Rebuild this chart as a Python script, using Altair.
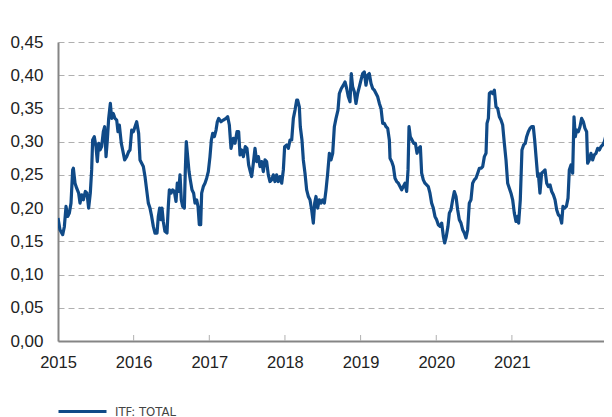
import altair as alt
import pandas as pd

# decimal years and ITF: TOTAL values
years = [
    2015.000, 2015.026, 2015.062, 2015.084, 2015.106, 2015.128, 2015.150, 2015.172, 2015.194, 2015.203,
    2015.225, 2015.247, 2015.273, 2015.291, 2015.313, 2015.335, 2015.361, 2015.383, 2015.405, 2015.427,
    2015.445, 2015.458, 2015.480, 2015.502, 2015.520, 2015.538, 2015.555, 2015.577, 2015.599, 2015.617,
    2015.635, 2015.652, 2015.670, 2015.692, 2015.709, 2015.731, 2015.753, 2015.776, 2015.793, 2015.811,
    2015.837, 2015.855, 2015.881, 2015.908, 2015.934, 2015.952, 2015.974, 2015.996, 2016.018, 2016.040,
    2016.066, 2016.084, 2016.106, 2016.128, 2016.150, 2016.172, 2016.194, 2016.216, 2016.238, 2016.260,
    2016.282, 2016.309, 2016.326, 2016.344, 2016.362, 2016.375, 2016.392, 2016.414, 2016.441, 2016.458,
    2016.472, 2016.494, 2016.516, 2016.538, 2016.560, 2016.577, 2016.595, 2016.613, 2016.630, 2016.648,
    2016.670, 2016.683, 2016.696, 2016.714, 2016.732, 2016.749, 2016.771, 2016.793, 2016.811, 2016.833,
    2016.851, 2016.868, 2016.886, 2016.899, 2016.921, 2016.943, 2016.965, 2016.987, 2017.009, 2017.027,
    2017.045, 2017.067, 2017.089, 2017.106, 2017.124, 2017.155, 2017.185, 2017.221, 2017.243, 2017.265,
    2017.287, 2017.318, 2017.340, 2017.366, 2017.388, 2017.406, 2017.428, 2017.450, 2017.476, 2017.498,
    2017.520, 2017.542, 2017.560, 2017.582, 2017.604, 2017.626, 2017.648, 2017.670, 2017.692, 2017.714,
    2017.736, 2017.758, 2017.780, 2017.802, 2017.824, 2017.846, 2017.868, 2017.890, 2017.912, 2017.935,
    2017.957, 2017.979, 2017.996, 2018.023, 2018.045, 2018.067, 2018.089, 2018.111, 2018.133, 2018.155,
    2018.168, 2018.190, 2018.203, 2018.225, 2018.243, 2018.265, 2018.287, 2018.309, 2018.331, 2018.353,
    2018.375, 2018.393, 2018.410, 2018.432, 2018.454, 2018.477, 2018.499, 2018.521, 2018.543, 2018.565,
    2018.587, 2018.609, 2018.631, 2018.653, 2018.675, 2018.701, 2018.719, 2018.745, 2018.772, 2018.794,
    2018.816, 2018.838, 2018.860, 2018.877, 2018.895, 2018.917, 2018.939, 2018.961, 2018.983, 2019.005,
    2019.027, 2019.049, 2019.071, 2019.093, 2019.115, 2019.138, 2019.160, 2019.182, 2019.204, 2019.226,
    2019.248, 2019.270, 2019.292, 2019.314, 2019.336, 2019.358, 2019.380, 2019.389, 2019.411, 2019.433,
    2019.455, 2019.477, 2019.499, 2019.521, 2019.543, 2019.565, 2019.587, 2019.609, 2019.627, 2019.640,
    2019.657, 2019.680, 2019.702, 2019.724, 2019.746, 2019.768, 2019.790, 2019.807, 2019.829, 2019.851,
    2019.873, 2019.895, 2019.917, 2019.939, 2019.961, 2019.983, 2020.005, 2020.027, 2020.050, 2020.072,
    2020.094, 2020.111, 2020.133, 2020.155, 2020.173, 2020.195, 2020.217, 2020.239, 2020.261, 2020.283,
    2020.305, 2020.327, 2020.349, 2020.371, 2020.393, 2020.415, 2020.437, 2020.459, 2020.481, 2020.503,
    2020.525, 2020.548, 2020.570, 2020.592, 2020.614, 2020.636, 2020.658, 2020.671, 2020.689, 2020.702,
    2020.724, 2020.746, 2020.768, 2020.790, 2020.812, 2020.834, 2020.856, 2020.878, 2020.900, 2020.922,
    2020.944, 2020.966, 2020.988, 2021.010, 2021.032, 2021.054, 2021.076, 2021.089, 2021.111, 2021.133,
    2021.155, 2021.177, 2021.195, 2021.217, 2021.239, 2021.261, 2021.283, 2021.301, 2021.319, 2021.341,
    2021.349, 2021.371, 2021.393, 2021.416, 2021.438, 2021.460, 2021.482, 2021.504, 2021.526, 2021.548,
    2021.570, 2021.592, 2021.614, 2021.636, 2021.658, 2021.675, 2021.697, 2021.720, 2021.742, 2021.759,
    2021.781, 2021.803, 2021.821, 2021.838, 2021.856, 2021.878, 2021.900, 2021.922, 2021.944, 2021.966,
    2021.988, 2022.001, 2022.023, 2022.045, 2022.067, 2022.089, 2022.112, 2022.134, 2022.156, 2022.178,
    2022.200, 2022.222, 2022.244, 2022.266, 2022.279,
]
values = [
    0.1850, 0.1675, 0.1600, 0.1720, 0.2025, 0.1875, 0.1925, 0.2075, 0.2575, 0.2600,
    0.2375, 0.2300, 0.2225, 0.2075, 0.2200, 0.2125, 0.2250, 0.2225, 0.2000, 0.2225,
    0.2575, 0.3025, 0.3075, 0.2925, 0.2700, 0.2975, 0.2875, 0.2925, 0.3150, 0.3225,
    0.2775, 0.3025, 0.3350, 0.3575, 0.3350, 0.3425, 0.3350, 0.3325, 0.3150, 0.3250,
    0.2975, 0.2875, 0.2725, 0.2775, 0.2850, 0.2875, 0.3175, 0.3150, 0.3225, 0.3300,
    0.3125, 0.2725, 0.2675, 0.2625, 0.2475, 0.2275, 0.2075, 0.2000, 0.1875, 0.1725,
    0.1625, 0.1625, 0.1875, 0.2000, 0.1825, 0.2000, 0.1800, 0.1650, 0.1625, 0.2025,
    0.2275, 0.2225, 0.2275, 0.2250, 0.2100, 0.2375, 0.2250, 0.2500, 0.2125, 0.2025,
    0.2000, 0.2575, 0.3000, 0.2775, 0.2550, 0.2425, 0.2275, 0.2225, 0.2075, 0.2125,
    0.2025, 0.1750, 0.1750, 0.2225, 0.2325, 0.2375, 0.2450, 0.2550, 0.2775, 0.3025,
    0.3125, 0.3075, 0.3175, 0.3300, 0.3350, 0.3300, 0.3325, 0.3350, 0.3375, 0.3250,
    0.2900, 0.3050, 0.2975, 0.3150, 0.3150, 0.2800, 0.2875, 0.2775, 0.2925, 0.2900,
    0.2650, 0.2550, 0.2475, 0.2675, 0.2900, 0.2700, 0.2775, 0.2625, 0.2700, 0.2550,
    0.2725, 0.2700, 0.2500, 0.2400, 0.2425, 0.2500, 0.2400, 0.2500, 0.2400, 0.2475,
    0.2375, 0.2575, 0.2925, 0.2950, 0.2900, 0.3025, 0.3025, 0.3350, 0.3475, 0.3625,
    0.3625, 0.3525, 0.3225, 0.3025, 0.2725, 0.2525, 0.2275, 0.2175, 0.2125, 0.1975,
    0.1775, 0.2075, 0.2175, 0.2000, 0.2125, 0.2075, 0.2125, 0.2075, 0.2275, 0.2525,
    0.2825, 0.2725, 0.2825, 0.3225, 0.3350, 0.3475, 0.3725, 0.3800, 0.3850, 0.3900,
    0.3800, 0.3675, 0.3600, 0.4025, 0.3825, 0.3750, 0.3575, 0.3725, 0.3825, 0.3925,
    0.4025, 0.4050, 0.3850, 0.4000, 0.4025, 0.3875, 0.3800, 0.3775, 0.3725, 0.3675,
    0.3575, 0.3500, 0.3275, 0.3275, 0.3225, 0.3200, 0.3025, 0.2750, 0.2700, 0.2625,
    0.2450, 0.2400, 0.2375, 0.2325, 0.2275, 0.2325, 0.2375, 0.2250, 0.2575, 0.3225,
    0.3075, 0.3025, 0.2975, 0.2975, 0.2825, 0.2900, 0.2925, 0.2525, 0.2425, 0.2375,
    0.2350, 0.2325, 0.2225, 0.2075, 0.2000, 0.1875, 0.1825, 0.1750, 0.1725, 0.1775,
    0.1575, 0.1475, 0.1575, 0.1725, 0.1925, 0.1975, 0.2125, 0.2250, 0.2175, 0.1975,
    0.1825, 0.1775, 0.1675, 0.1625, 0.1550, 0.1675, 0.2075, 0.2125, 0.2375, 0.2425,
    0.2450, 0.2525, 0.2600, 0.2600, 0.2625, 0.2775, 0.2825, 0.3275, 0.3350, 0.3725,
    0.3750, 0.3725, 0.3775, 0.3525, 0.3500, 0.3375, 0.3325, 0.3250, 0.2975, 0.2725,
    0.2375, 0.2300, 0.2225, 0.2125, 0.1925, 0.1800, 0.1875, 0.1775, 0.2125, 0.2875,
    0.2950, 0.2975, 0.3075, 0.3150, 0.3200, 0.3225, 0.3225, 0.3025, 0.2775, 0.2475,
    0.2525, 0.2225, 0.2525, 0.2550, 0.2575, 0.2375, 0.2325, 0.2350, 0.2250, 0.2200,
    0.2125, 0.1975, 0.1900, 0.1875, 0.1775, 0.2025, 0.2000, 0.2025, 0.2150, 0.2575,
    0.2650, 0.2525, 0.3375, 0.3075, 0.3175, 0.3150, 0.3225, 0.3350, 0.3300, 0.3200,
    0.3150, 0.2675, 0.2725, 0.2825, 0.2725, 0.2800, 0.2825, 0.2900, 0.2875, 0.2925,
    0.2950, 0.3000, 0.3100, 0.3150, 0.3125,
]
series_name = "ITF: TOTAL"
tick_years = [2015, 2016, 2017, 2018, 2019, 2020, 2021]
y_ticks = [0.0, 0.05, 0.10, 0.15, 0.20, 0.25, 0.30, 0.35, 0.40, 0.45]

df = pd.DataFrame({"year": years, "value": values, "series": series_name})
ticks_df = pd.DataFrame({"year": tick_years[1:]})

W, H = 546, 299
x_scale = alt.Scale(domain=[2015, 2015 + W / 75.65], nice=False, zero=False)
y_scale = alt.Scale(domain=[0, 0.45], nice=False)

line = alt.Chart(df).mark_line(strokeWidth=3.2, strokeJoin="round", clip=True).encode(
    x=alt.X("year:Q", scale=x_scale, title=None,
            axis=alt.Axis(values=tick_years, format="d", labelFlush=False, ticks=False,
                          grid=False, labelPadding=13, labelFontSize=16.5,
                          labelColor="#222222", domainColor="#858585", domainWidth=2,
                          labelFont="Liberation Sans")),
    y=alt.Y("value:Q", scale=y_scale, title=None,
            axis=alt.Axis(values=y_ticks, ticks=False, grid=True, gridDash=[6, 4],
                          gridColor="#b0b0b0", gridWidth=1,
                          labelExpr="replace(format(datum.value, '.2f'), '.', ',')",
                          labelPadding=15, labelFontSize=17, labelColor="#222222",
                          domainColor="#858585", domainWidth=2, labelFont="Liberation Sans")),
    color=alt.Color("series:N", scale=alt.Scale(range=["#104a87"]), title=None,
                    legend=alt.Legend(orient="none", legendX=-1, legendY=344,
                                      symbolType="stroke", symbolSize=2304,
                                      symbolStrokeWidth=3, labelOffset=7,
                                      labelFontSize=13, labelColor="#444444",
                                      labelFont="Liberation Sans Narrow, DejaVu Sans Condensed, sans-serif",
                                      padding=0)),
)

ticks = alt.Chart(ticks_df).mark_rule(color="#b0b0b0", strokeWidth=1).encode(
    x=alt.X("year:Q", scale=x_scale),
    y=alt.value(H - 6),
    y2=alt.value(H),
)

chart = alt.layer(ticks, line).properties(
    width=W, height=H,
    autosize=alt.AutoSizeParams(type="none"),
    padding={"left": 50, "top": 34, "right": 0, "bottom": 76},
).configure_view(stroke=None)

chart.save("out.html", embed_options={"renderer": "svg", "actions": False})
